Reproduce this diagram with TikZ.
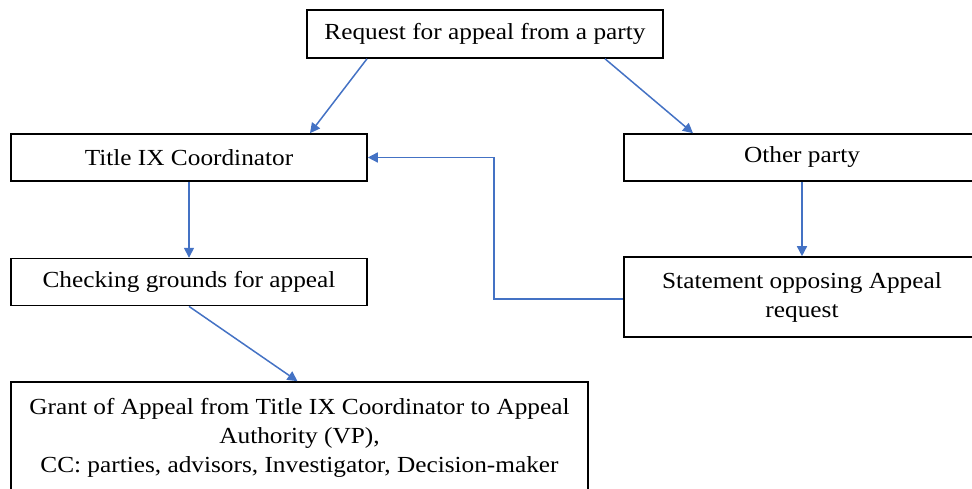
\documentclass[tikz,border=0pt]{standalone}
\usepackage{fontspec}
\setmainfont[FakeStretch=1.1]{Liberation Serif}
\usetikzlibrary{positioning, arrows.meta}
\definecolor{flowblue}{RGB}{68,114,196}
\tikzstyle{box}=[rectangle, draw=black, line width=1.6pt, minimum width=356pt, minimum height=47pt, align=center, inner sep=0pt, font=\fontsize{23}{29}\selectfont]
\tikzstyle{flow}=[draw=flowblue, line width=1.5pt, -{Triangle[length=10pt,width=10pt]}]

\begin{document}
\begin{tikzpicture}[x=1pt,y=-1pt]
            %Appeal flow, the other party's statement goes back to the coordinator
            \useasboundingbox (0,0) rectangle (972,489);
            \clip (0,0) rectangle (972,489);
            \node[box, minimum height=48pt](req) at (485,34){Request for appeal from a party};
            \node[box](coord) at (189,157.5){Title IX Coordinator};
            \node[box](other) at (802,157.5){Other party};
            \node[box, below = 76pt of coord](check){Checking grounds for appeal};
            \node[box, minimum height=80pt](stmt) at (802,297){Statement opposing Appeal\\request};
            \node[box, minimum width=577pt, minimum height=112pt](grant) at (299.5,438){Grant of Appeal from Title IX Coordinator to Appeal\\Authority (VP),\\CC: parties, advisors, Investigator, Decision-maker};

            \draw[flow] ([xshift=-118pt]req.south) to ([xshift=121pt]coord.north);
            \draw[flow] ([xshift=120pt]req.south) to ([xshift=-109pt]other.north);
            \draw[flow] (coord) to (check);
            \draw[flow] (other) to (stmt);
            \draw[flow] (check.south) to ([xshift=-2pt]grant.north);
            \draw[flow] ([yshift=-2pt]stmt.west) -- ++(-129,0) |- (coord.east);
        \end{tikzpicture}
\end{document}
